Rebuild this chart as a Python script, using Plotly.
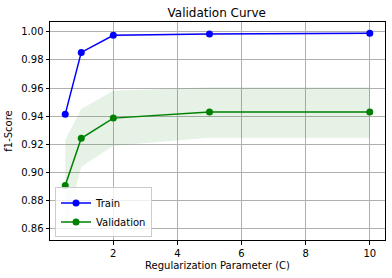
import plotly.graph_objects as go

c_values = [0.5, 1, 2, 5, 10]
train_mean = [0.9414, 0.9853, 0.9974, 0.9984, 0.9989]
train_std = [0.0006, 0.0008, 0.0008, 0.0006, 0.0005]
val_mean = [0.8907, 0.9243, 0.9386, 0.9429, 0.9429]
val_upper = [0.9230, 0.9450, 0.9580, 0.9605, 0.9605]
val_lower = [0.8585, 0.9040, 0.9190, 0.9247, 0.9247]

x_ticks = [2, 4, 6, 8, 10]
y_ticks = [0.86, 0.88, 0.90, 0.92, 0.94, 0.96, 0.98, 1.00]

fig = go.Figure()

tr_up = [m + s for m, s in zip(train_mean, train_std)]
tr_lo = [m - s for m, s in zip(train_mean, train_std)]
fig.add_trace(go.Scatter(x=c_values + c_values[::-1], y=tr_up + tr_lo[::-1],
                         fill='toself', fillcolor='rgba(255,0,0,0.1)',
                         line=dict(width=0), mode='lines', showlegend=False, hoverinfo='skip'))
fig.add_trace(go.Scatter(x=c_values + c_values[::-1], y=val_upper + val_lower[::-1],
                         fill='toself', fillcolor='rgba(0,128,0,0.1)',
                         line=dict(width=0), mode='lines', showlegend=False, hoverinfo='skip'))
fig.add_trace(go.Scatter(x=c_values, y=train_mean, mode='lines+markers', name='Train',
                         line=dict(color='blue', width=1.5), marker=dict(color='blue', size=7)))
fig.add_trace(go.Scatter(x=c_values, y=val_mean, mode='lines+markers', name='Validation',
                         line=dict(color='green', width=1.5), marker=dict(color='green', size=7)))

axis_common = dict(showline=True, linecolor='black', linewidth=1, mirror=True,
                   showgrid=True, gridcolor='#b0b0b0', gridwidth=1, zeroline=False,
                   ticks='outside', ticklen=3.5, tickcolor='black',
                   tickfont=dict(family='DejaVu Sans', size=10, color='black'))

fig.update_layout(
    width=392, height=278,
    margin=dict(l=50, r=7, t=22, b=38),
    paper_bgcolor='white', plot_bgcolor='white',
    title=dict(text='Validation Curve', x=0.553, xanchor='center', y=0.955, yanchor='middle',
               font=dict(family='DejaVu Sans', size=12, color='black')),
    xaxis=dict(range=[0.025, 10.475], tickvals=x_ticks, ticktext=[str(t) for t in x_ticks],
               title=dict(text='Regularization Parameter (C)', standoff=4,
                          font=dict(family='DejaVu Sans', size=10, color='black')),
               **axis_common),
    yaxis=dict(range=[0.852, 1.0069], tickvals=y_ticks, ticktext=['%.2f' % t for t in y_ticks],
               title=dict(text='f1-Score', standoff=6,
                          font=dict(family='DejaVu Sans', size=10, color='black')),
               **axis_common),
    legend=dict(x=0.015, y=0.012, xanchor='left', yanchor='bottom',
                bgcolor='rgba(255,255,255,0.8)', bordercolor='#cccccc', borderwidth=1,
                font=dict(family='DejaVu Sans', size=10, color='black'),
                itemwidth=30, tracegroupgap=0),
    showlegend=True,
)

fig.write_html("out.html")
